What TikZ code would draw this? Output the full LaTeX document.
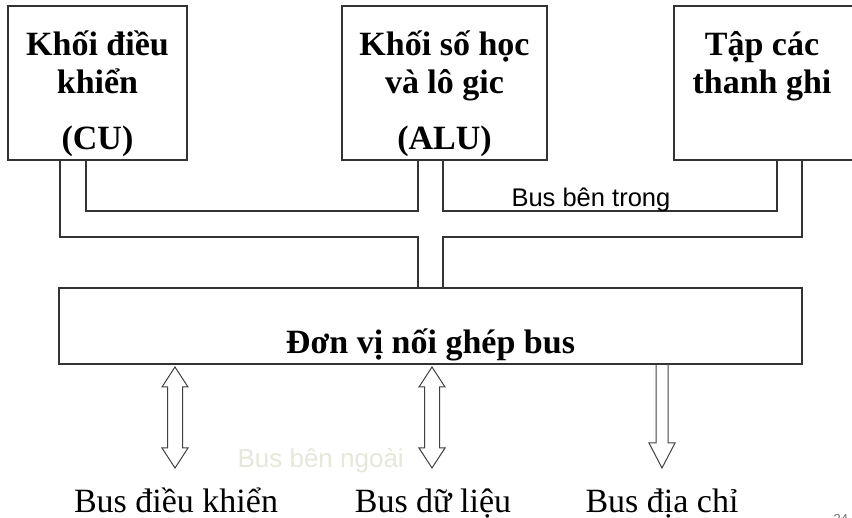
\documentclass[tikz,border=0pt]{standalone}
\usepackage{fontspec}
\setmainfont{Liberation Serif}
\newfontfamily\arialfont{Liberation Sans}
\usetikzlibrary{calc}
\definecolor{faintlabel}{RGB}{230,230,218}
\begin{document}
\begin{tikzpicture}[x=1pt,y=-1pt,line width=1.1pt,
  unitbox/.style={draw=black!80,minimum width=#1,minimum height=154pt,anchor=north west,inner sep=0pt,outer sep=0pt},
  boxtext/.style={font=\fontsize{34}{38}\selectfont\bfseries,align=center,anchor=base,inner sep=0pt},
  buslabel/.style={font=\fontsize{34}{38}\selectfont,anchor=base,inner sep=0pt},
  busline/.style={draw=black!80},
  hollow/.style={draw=black!75,line width=1pt,line join=miter}]
\useasboundingbox (0,0) rectangle (852,518);
\node[unitbox=179pt] (cu) at (8,6) {};
\node[unitbox=205pt] (alu) at (342,6) {};
\node[unitbox=200pt] (reg) at (674,6) {};
\node[boxtext] (cutext) at ($(cu.north)+(0,144)$) {Khối điều\\khiển\\[18pt](CU)};
\node[boxtext] (alutext) at ($(alu.north)+(0,144)$) {Khối số học\\và lô gic\\[18pt](ALU)};
\node[boxtext] (regtext) at ($(reg.north)+(-12,88)$) {Tập các\\thanh ghi};

\node[draw=black!80,minimum width=743pt,minimum height=76pt,anchor=north west,inner sep=0pt,outer sep=0pt] (bus) at (59,288) {};
\node[boxtext] (bustext) at ($(bus.south)+(0,-10)$) {Đơn vị nối ghép bus};

\draw[busline] ($(cu.south west)+(78,0)$) |- ($(alu.south west)+(76,51)$) -- ($(alu.south west)+(76,0)$);
\draw[busline] ($(alu.south west)+(101,0)$) |- ($(reg.south west)+(103,51)$) -- ($(reg.south west)+(103,0)$);
\draw[busline] ($(cu.south west)+(52,0)$) |- ($(bus.north west)+(359,-51)$) -- ($(bus.north west)+(359,0)$);
\draw[busline] ($(bus.north west)+(384,0)$) |- ($(reg.south west)+(128,77)$) -- ($(reg.south west)+(128,0)$);
\node[font=\arialfont\fontsize{25.5}{28}\selectfont,anchor=base west,inner sep=0pt] (intbus) at (511,207) {Bus bên trong};

\coordinate (ctlarr) at ($(bus.south west)+(116,3)$);
\coordinate (datarr) at ($(bus.south west)+(373,3)$);
\coordinate (addrarr) at ($(bus.south west)+(603,0)$);
\draw[hollow] (ctlarr) -- ++(13,20) -- ++(-5.5,0) -- ++(0,61) -- ++(5.5,0) -- ++(-13,20) -- ++(-13,-20) -- ++(5.5,0) -- ++(0,-61) -- ++(-5.5,0) -- cycle;
\draw[hollow] (datarr) -- ++(13,20) -- ++(-5.5,0) -- ++(0,61) -- ++(5.5,0) -- ++(-13,20) -- ++(-13,-20) -- ++(5.5,0) -- ++(0,-61) -- ++(-5.5,0) -- cycle;
\draw[hollow] (addrarr) ++(-6,0) -- ++(0,79) -- ++(-7,0) -- ++(13,25) -- ++(13,-25) -- ++(-7,0) -- ++(0,-79);

\node[buslabel] (ctlbus) at ($(ctlarr)+(1,146)$) {Bus điều khiển};
\node[buslabel] (databus) at ($(datarr)+(1,146)$) {Bus dữ liệu};
\node[buslabel] (addrbus) at ($(addrarr)+(0,149)$) {Bus địa chỉ};
\node[font=\arialfont\fontsize{26}{28}\selectfont,text=faintlabel,anchor=base west,inner sep=0pt] (extbus) at (237,468) {Bus bên ngoài};
\node[font=\arialfont\fontsize{13}{15}\selectfont,text=black!55,anchor=base west,inner sep=0pt] (pagenum) at (833,523) {24};
\end{tikzpicture}
\end{document}
